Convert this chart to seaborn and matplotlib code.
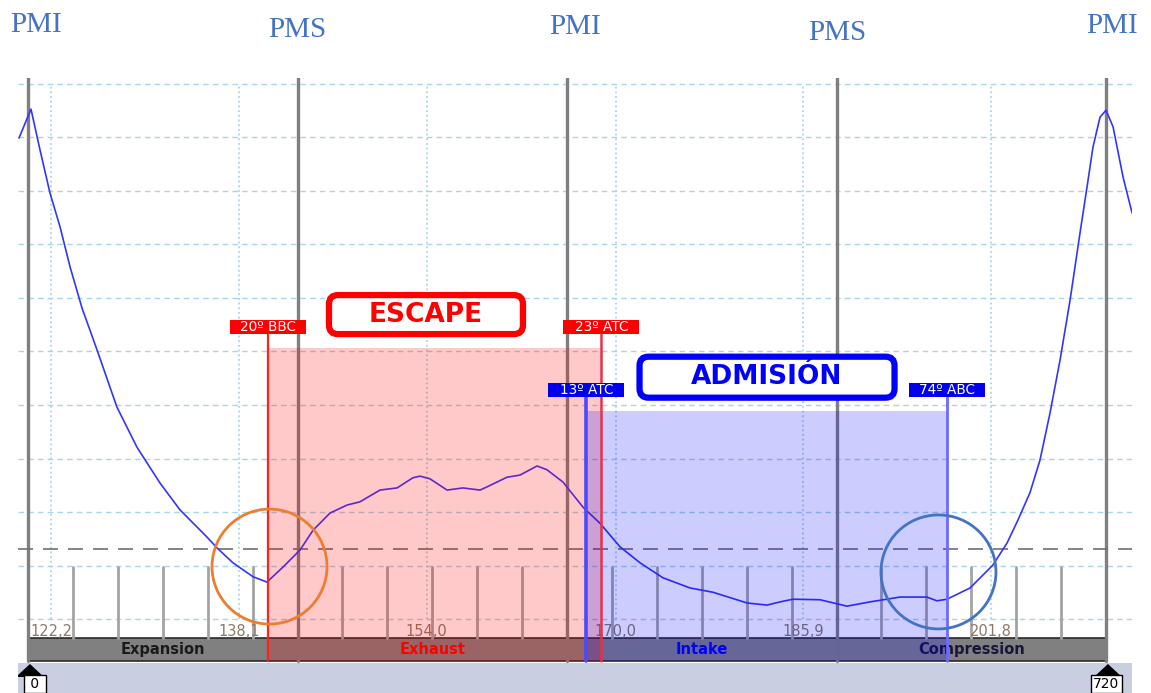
import matplotlib
matplotlib.use("Agg")
import matplotlib.pyplot as plt
from matplotlib.patches import Rectangle, FancyBboxPatch, Ellipse, Polygon
import seaborn as sns

# Cylinder pressure trace over one four-stroke cycle (crank angle in degrees)
crank_deg = [-6.0, 2.0, 8.0, 14.7, 21.4, 28.1, 36.1, 46.1, 59.4, 72.8, 88.2, 101.5,
             119.6, 126.2, 136.9, 150.3, 159.6, 170.3, 181.7, 190.4, 201.7, 213.1,
             221.7, 235.1, 246.5, 257.1, 261.8, 268.5, 279.9, 290.5, 301.9, 306.6,
             319.9, 328.6, 340.0, 346.6, 357.3, 370.7, 382.0, 395.4, 408.8, 424.1,
             442.2, 457.5, 480.2, 493.6, 502.3, 510.9, 529.0, 547.0, 562.4, 582.4,
             600.4, 607.1, 613.8, 629.2, 644.5, 653.9, 661.2, 669.2, 675.9, 682.6,
             689.3, 696.0, 702.6, 707.3, 711.3, 716.0, 720.0, 724.7, 731.4, 737.4]
pressure = [8.99, 9.53, 8.77, 7.96, 7.33, 6.58, 5.81, 5.03, 3.96, 3.21, 2.54, 2.04,
            1.53, 1.33, 1.05, 0.79, 0.69, 0.97, 1.29, 1.66, 1.98, 2.13,
            2.19, 2.41, 2.45, 2.64, 2.67, 2.62, 2.41, 2.45, 2.41, 2.47,
            2.65, 2.69, 2.86, 2.79, 2.56, 2.09, 1.79, 1.35, 1.05, 0.77,
            0.58, 0.50, 0.30, 0.26, 0.32, 0.37, 0.36, 0.24, 0.32, 0.41,
            0.41, 0.34, 0.37, 0.58, 1.01, 1.42, 1.85, 2.36, 2.97, 3.85,
            4.84, 5.96, 7.21, 8.07, 8.82, 9.38, 9.51, 9.20, 8.26, 7.59]

# Dead centres
dead_centre_deg = [0, 180, 360, 540, 720]
dead_centre_names = ["PMI", "PMS", "PMI", "PMS", "PMI"]

# Time axis (ms) shown under the trace
time_ticks_ms = [122.2, 138.1, 154.0, 170.0, 185.9, 201.8]
time_labels = ["122,2", "138,1", "154,0", "170,0", "185,9", "201,8"]

# Strokes
stroke_names = ["Expansion", "Exhaust", "Intake", "Compression"]
stroke_text_colors = ["#1a1a1a", "#ff0000", "#0000ff", "#16163c"]

# Valve timing (degrees relative to dead centres)
exhaust_open_bbc = 20
exhaust_close_atc = 23
intake_open_atc = 13
intake_close_abc = 74
exhaust_level = 5.07
intake_level = 3.89
trigger_level = 1.31

# --- geometry of the drawing -------------------------------------------------
W, H = 1151, 693
X_MIN, X_MAX = -6.68, 737.36
Y_MIN, Y_MAX = -1.383, 10.112
STRIP_TOP, STRIP_BOT = -0.346, -0.794
SLIDER_TOP = -0.822

sns.set_style("white")
plt.rcParams["font.family"] = ["DejaVu Sans"]

fig = plt.figure(figsize=(W / 100, H / 100), dpi=100)
ax = fig.add_axes([18 / W, 0, 1114 / W, 615 / H])
ax.set_xlim(X_MIN, X_MAX)
ax.set_ylim(Y_MIN, Y_MAX)
ax.set_axis_off()

deg_per_px = (X_MAX - X_MIN) / 1114
val_per_px = (Y_MAX - Y_MIN) / 615


def ms_to_deg(t):
    return 15.36 + (t - time_ticks_ms[0]) * 7.888


# grid
for v in range(0, 11):
    ax.axhline(v, color="#a9d6e6", lw=1.0, ls=(0, (4, 3)), zorder=0.5)
for t in time_ticks_ms:
    ax.plot([ms_to_deg(t)] * 2, [0, 10], color="#a9d6e6", lw=1.3,
            ls=(0, (1, 1.6)), zorder=0.5)

# slider band and markers at the bottom
ax.add_patch(Rectangle((X_MIN, Y_MIN), X_MAX - X_MIN, SLIDER_TOP - Y_MIN,
                       facecolor="#c7cfe1", edgecolor="none", zorder=1))
for d, lab, off in [(dead_centre_deg[0], " 0 ", 4.5), (dead_centre_deg[-1], "720", 0.3)]:
    tri_w = 14 * deg_per_px
    ax.add_patch(Polygon([(d + 1.3 - tri_w, SLIDER_TOP - 14 * val_per_px),
                          (d + 1.3 + tri_w, SLIDER_TOP - 14 * val_per_px),
                          (d + 1.3, SLIDER_TOP - 1 * val_per_px)],
                         closed=True, facecolor="black", edgecolor="none", zorder=6))
    ax.text(d + off, SLIDER_TOP - 21 * val_per_px, lab, ha="center", va="center",
            fontsize=10, color="black", zorder=6,
            bbox=dict(boxstyle="square,pad=0.15", facecolor="white",
                      edgecolor="black", lw=1))

# stroke strip
for i, name in enumerate(stroke_names):
    x0, x1 = dead_centre_deg[i], dead_centre_deg[i + 1]
    ax.add_patch(Rectangle((x0, STRIP_BOT), x1 - x0, STRIP_TOP - STRIP_BOT,
                           facecolor="#808080", edgecolor="#2a2a2a", lw=1.2, zorder=1.5))
    ax.text((x0 + x1) / 2, (STRIP_TOP + STRIP_BOT) / 2, name, ha="center",
            va="center", fontsize=10.5, fontweight="bold",
            color=stroke_text_colors[i], zorder=2)

# minor crank ticks every 30 degrees
for d in range(30, 720, 30):
    if d % 180:
        ax.plot([d, d], [0.97, STRIP_TOP], color="#a3a3a3", lw=2.0, zorder=1.8)

# time labels
for t, lab in zip(time_ticks_ms, time_labels):
    ax.text(ms_to_deg(t), -0.24, lab, ha="center", va="center", fontsize=10.5,
            color="#8a7a68", zorder=2)

# dead-centre lines
for d in dead_centre_deg:
    ax.plot([d, d], [10.0 + 6 * val_per_px, STRIP_BOT], color="#7f7f7f",
            lw=2.4, zorder=2.2)

# trigger level
ax.axhline(trigger_level, color="#707070", lw=1.2, ls=(0, (9, 6)), zorder=2.5)

# pressure trace
sns.lineplot(x=crank_deg, y=pressure, ax=ax, color="#3434ff", linewidth=1.2,
             zorder=3)

# valve events
exh_open = 180 - exhaust_open_bbc
exh_close = 360 + exhaust_close_atc
int_open = 360 + intake_open_atc
int_close = 540 + intake_close_abc

ax.add_patch(Rectangle((exh_open, STRIP_BOT), exh_close - exh_open,
                       exhaust_level - STRIP_BOT, facecolor="#ff0000",
                       alpha=0.21, edgecolor="none", zorder=4))
ax.add_patch(Rectangle((int_open, STRIP_BOT), int_close - int_open,
                       intake_level - STRIP_BOT, facecolor="#0000ff",
                       alpha=0.2, edgecolor="none", zorder=4.1))

label_h = 14 * val_per_px
for d, txt, col, lcol, lw, top in [
        (exh_open, f"{exhaust_open_bbc}º BBC", "#ff0000", "#ff2020", 1.6, exhaust_level + 5.2 * val_per_px),
        (exh_close, f"{exhaust_close_atc}º ATC", "#ff0000", "#e8304a", 1.8, exhaust_level + 5.2 * val_per_px),
        (int_open, f"{intake_open_atc}º ATC", "#0000ee", "#4a4aff", 2.6, intake_level + 5.2 * val_per_px),
        (int_close, f"{intake_close_abc}º ABC", "#0000ee", "#6a6aff", 2.0, intake_level + 5.2 * val_per_px)]:
    ax.plot([d, d], [top + 9 * val_per_px, STRIP_BOT], color=lcol, lw=lw, zorder=5)
    bw = 76 * deg_per_px
    y0 = top + 9 * val_per_px
    ax.add_patch(Rectangle((d - bw / 2, y0), bw, label_h, facecolor=col,
                           edgecolor="none", zorder=7))
    ax.text(d, y0 + label_h / 2, txt, ha="center", va="center", fontsize=9.8,
            color="white", zorder=7.5)

# phase titles
for cx, cy, wpx, hpx, txt, col in [
        (265.8, 5.69, 194, 39, "ESCAPE", "#ff0000"),
        (493.6, 4.52, 255, 41, "ADMISIÓN", "#0000ff")]:
    w, h = wpx * deg_per_px, hpx * val_per_px
    ax.add_patch(FancyBboxPatch((cx - w / 2, cy - h / 2), w, h,
                                boxstyle=f"round,pad=0,rounding_size={9 * deg_per_px}",
                                mutation_aspect=val_per_px / deg_per_px,
                                facecolor="white", edgecolor=col, lw=4.5, zorder=7))
    ax.text(cx, cy, txt, ha="center", va="center", fontsize=19,
            fontweight="bold", color=col, zorder=7.5)

# highlighted regions
ax.add_patch(Ellipse((161.3, 0.98), 115 * deg_per_px, 115 * val_per_px,
                     facecolor="none", edgecolor="#ed7d31", lw=2.0, zorder=6))
ax.add_patch(Ellipse((608.1, 0.88), 115 * deg_per_px, 114 * val_per_px,
                     facecolor="none", edgecolor="#4472c4", lw=2.0, zorder=6))

# dead-centre names above the plot
name_pos = [(5.3, 10.97), (180.0, 10.88), (365.4, 10.93), (540.4, 10.82), (724.2, 10.95)]
for (x, y), name in zip(name_pos, dead_centre_names):
    ax.text(x, y, name, ha="center", va="baseline", fontsize=21,
            family=["Liberation Serif", "DejaVu Serif"], color="#4472c4",
            clip_on=False)

fig.savefig("out.png", dpi=100)
